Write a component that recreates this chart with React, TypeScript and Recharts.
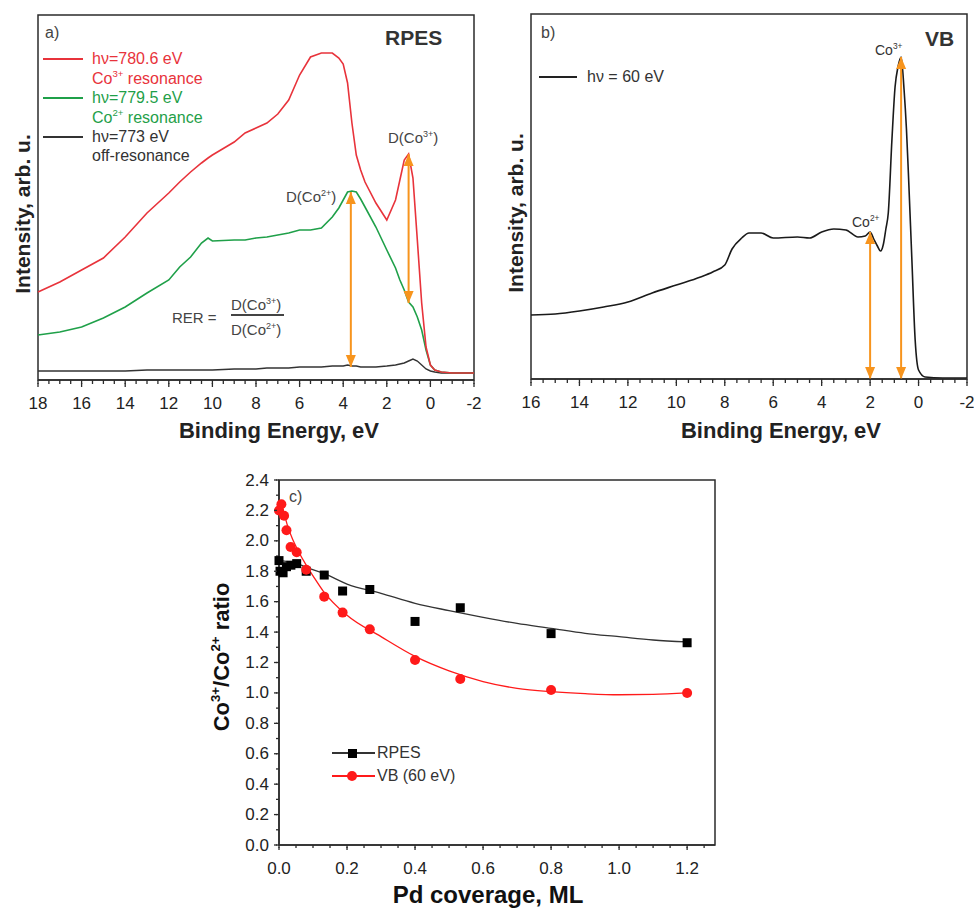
import React from 'react'
import {
  ComposedChart,
  Line,
  XAxis,
  YAxis,
  ReferenceArea,
  ReferenceLine,
  ReferenceDot,
} from 'recharts'

const FONT = '"Liberation Sans", Arial, sans-serif'
const AXIS = '#2b2b2b'
const ORANGE = '#f7941d'
const RED_A = '#e8333b'
const GREEN_A = '#1fa049'
const RED_C = '#ff1a1a'

// a) RPES spectra, binding energy (eV) and intensity (arb. u.)
const rpesEnergy = [18, 17, 16, 15, 14, 13, 12, 11.5, 11, 10.5, 10.2, 10, 9, 8.5, 8, 7.5, 7, 6.5, 6, 5.5, 5, 4.5, 4.2, 4, 3.8, 3.6, 3.4, 3.2, 3, 2.5, 2, 1.6, 1.4, 1.2, 1, 0.8, 0.6, 0.4, 0.2, 0, -0.2, -0.5, -1, -2]
const red780 = [88, 98, 110, 122, 143, 167, 187, 198, 208, 217, 222, 225, 238, 247, 252, 257, 266, 280, 305, 323, 327, 327, 322, 316, 297, 257, 225, 210, 198, 177, 160, 180, 200, 220, 226, 202, 140, 77, 33, 15, 10, 8, 7, 7]
const green779 = [45, 48, 53, 62, 73, 87, 100, 113, 123, 137, 142, 139, 140, 140, 142, 143, 145, 147, 150, 150, 152, 163, 172, 180, 188, 189, 188, 181, 173, 153, 130, 112, 100, 90, 78, 73, 63, 50, 30, 15, 10, 8, 7, 7]
const off773 = [9, 9, 9, 9, 9, 10, 10, 10, 10, 10, 10, 10, 11, 11, 11, 12, 12, 12, 13, 13, 13, 14, 14, 14, 15, 14, 14, 13, 13, 13, 14, 15, 16, 17, 19, 21, 19, 15, 11, 9, 8, 7, 7, 7]
const rpesMajor = [18, 16, 14, 12, 10, 8, 6, 4, 2, 0, -2]

// b) valence band at 60 eV
const vbEnergy = [16, 15, 14, 13, 12, 11, 10, 9, 8.5, 8, 7.7, 7.3, 7, 6.5, 6, 5, 4.5, 4, 3.5, 3, 2.5, 2.2, 2, 1.85, 1.7, 1.57, 1.45, 1.35, 1.25, 1.1, 0.97, 0.85, 0.72, 0.6, 0.5, 0.42, 0.28, 0.14, 0, -0.27, -1, -2]
const vb60 = [64, 65, 68, 72, 77, 86, 94, 102, 107, 114, 130, 141, 146, 146, 141, 142, 141, 147, 150, 149, 142, 143, 147, 140, 133, 128, 135, 150, 166, 239, 292, 312, 322, 290, 250, 206, 122, 39, 9, 2, 1, 1]
const vbMajor = [16, 14, 12, 10, 8, 6, 4, 2, 0, -2]

// c) Co3+/Co2+ ratio vs Pd coverage
const rpesCoverage = [0, 0.003, 0.012, 0.022, 0.035, 0.052, 0.08, 0.133, 0.187, 0.267, 0.4, 0.533, 0.8, 1.2]
const rpesRatio = [1.87, 1.8, 1.79, 1.83, 1.84, 1.85, 1.8, 1.775, 1.67, 1.68, 1.47, 1.56, 1.39, 1.33]
const vbCoverage = [0, 0.007, 0.015, 0.022, 0.034, 0.052, 0.08, 0.133, 0.187, 0.267, 0.4, 0.533, 0.8, 1.2]
const vbRatio = [2.2, 2.24, 2.165, 2.07, 1.96, 1.925, 1.81, 1.633, 1.528, 1.418, 1.216, 1.092, 1.019, 1.0]
const rpesFitX = [0, 0.052, 0.08, 0.132, 0.2, 0.3, 0.4, 0.5, 0.6, 0.7, 0.8, 0.9, 1.0, 1.1, 1.2]
const rpesFitY = [1.87, 1.852, 1.826, 1.786, 1.716, 1.655, 1.589, 1.541, 1.497, 1.457, 1.425, 1.392, 1.37, 1.348, 1.335]
const vbFitX = [0.004, 0.015, 0.025, 0.04, 0.055, 0.08, 0.1, 0.13, 0.2, 0.3, 0.4, 0.5, 0.6, 0.7, 0.8, 0.9, 1.0, 1.1, 1.2]
const vbFitY = [2.26, 2.18, 2.1, 2.01, 1.94, 1.84, 1.77, 1.67, 1.51, 1.37, 1.24, 1.145, 1.075, 1.03, 1.008, 0.995, 0.988, 0.99, 1.0]
const coverageMajor = [0, 0.2, 0.4, 0.6, 0.8, 1.0, 1.2]
const ratioMajor = [0, 0.2, 0.4, 0.6, 0.8, 1.0, 1.2, 1.4, 1.6, 1.8, 2.0, 2.2, 2.4]

const rpesRows = rpesEnergy.map((e, i) => ({ e, red: red780[i], green: green779[i], black: off773[i] }))
const vbRows = vbEnergy.map((e, i) => ({ e, v: vb60[i] }))
const rpesPts = rpesCoverage.map((x, i) => ({ x, y: rpesRatio[i] }))
const vbPts = vbCoverage.map((x, i) => ({ x, y: vbRatio[i] }))
const rpesFit = rpesFitX.map((x, i) => ({ x, y: rpesFitY[i] }))
const vbFit = vbFitX.map((x, i) => ({ x, y: vbFitY[i] }))

// minor ticks between the labelled ones
const steps = (lo: number, hi: number, step: number) =>
  Array.from({ length: Math.round((hi - lo) / step) + 1 }, (_, i) => +(lo + i * step).toFixed(3))

const isMajor = (majors: number[], v: number) => majors.some((m) => Math.abs(m - v) < 1e-6)

// recharts draws the short tick line; majors get a longer mark and a label
const bottomTick = (majors: number[], fmt: (v: number) => string, dy: number, extra: number) => (p: any) => {
  const v = p.payload.value
  if (!isMajor(majors, v)) return <g />
  return (
    <g>
      <rect x={p.x - 0.65} y={p.y - 1} width={1.3} height={extra + 1} fill={AXIS} />
      <text x={p.x} y={p.y + dy} textAnchor="middle" dominantBaseline="central" fontSize={17} fontFamily={FONT} fill="#222">
        {fmt(v)}
      </text>
    </g>
  )
}

const leftTick = (majors: number[]) => (p: any) => {
  const v = p.payload.value
  if (!isMajor(majors, v)) return <g />
  return (
    <g>
      <rect x={p.x - 2} y={p.y - 0.65} width={3} height={1.3} fill={AXIS} />
      <text x={p.x - 7} y={p.y} textAnchor="end" dominantBaseline="central" fontSize={17} fontFamily={FONT} fill="#222">
        {v.toFixed(1)}
      </text>
    </g>
  )
}

const head = (up: boolean) => (p: any) => {
  const d = up ? 12 : -12
  return <polygon points={`${p.cx},${p.cy} ${p.cx - 5},${p.cy + d} ${p.cx + 5},${p.cy + d}`} fill={ORANGE} />
}

const arrow = (key: string, x: number, yTop: number, yBot: number) => [
  <ReferenceLine key={key + 'l'} segment={[{ x, y: yTop }, { x, y: yBot }]} stroke={ORANGE} strokeWidth={2} ifOverflow="visible" />,
  <ReferenceDot key={key + 't'} x={x} y={yTop} ifOverflow="visible" shape={head(true)} />,
  <ReferenceDot key={key + 'b'} x={x} y={yBot} ifOverflow="visible" shape={head(false)} />,
]

const Sup = ({ children }: { children: React.ReactNode }) => (
  <span style={{ fontSize: '0.6em', position: 'relative', top: '-0.7em' }}>{children}</span>
)

const T = ({ x, y, size = 16, color = '#333', bold = false, center = false, rotate = false, children }: any) => (
  <div
    style={{
      position: 'absolute',
      left: x,
      top: y,
      transform: rotate ? 'translate(-50%,-50%) rotate(-90deg)' : center ? 'translate(-50%,-50%)' : 'translateY(-50%)',
      fontSize: size,
      color,
      fontWeight: bold ? 700 : 400,
      lineHeight: 1,
      whiteSpace: 'nowrap',
      fontFamily: FONT,
    }}
  >
    {children}
  </div>
)

const Seg = ({ x1, x2, y, color, w = 2 }: any) => (
  <div style={{ position: 'absolute', left: x1, top: y - w / 2, width: x2 - x1, height: w, background: color }} />
)

const tickLineStyle = { stroke: AXIS, strokeWidth: 1.3 }

function PanelA() {
  return (
    <div style={{ position: 'absolute', left: 0, top: 0, width: 490, height: 452 }}>
      <ComposedChart width={490} height={450} data={rpesRows} margin={{ top: 15, right: 16, left: 38, bottom: 10 }}>
        <XAxis
          dataKey="e"
          type="number"
          domain={[-2, 18]}
          reversed
          ticks={steps(-2, 18, 0.5)}
          interval={0}
          tickLine={tickLineStyle}
          tickSize={4}
          tickMargin={0}
          axisLine={{ stroke: AXIS, strokeWidth: 1.5 }}
          tick={bottomTick(rpesMajor, (v) => String(v), 19, 3)}
          height={60}
        />
        <YAxis type="number" domain={[0, 365]} hide />
        <ReferenceArea x1={18} x2={-2} y1={0} y2={365} fill="none" stroke={AXIS} strokeWidth={1.5} ifOverflow="visible" />
        <Line dataKey="black" type="linear" stroke="#333" strokeWidth={1.4} dot={false} isAnimationActive={false} />
        <Line dataKey="green" type="linear" stroke={GREEN_A} strokeWidth={1.6} dot={false} isAnimationActive={false} />
        <Line dataKey="red" type="linear" stroke={RED_A} strokeWidth={1.6} dot={false} isAnimationActive={false} />
        {arrow('a1', 3.65, 188, 13)}
        {arrow('a2', 1.0, 226, 77)}
      </ComposedChart>
      <T x={45} y={33} color="#444">a)</T>
      <T x={385} y={37} size={21} bold color="#333">RPES</T>
      <Seg x1={43} x2={83} y={59} color={RED_A} />
      <T x={92} y={59} color={RED_A}>hν=780.6 eV</T>
      <T x={92} y={79} color={RED_A}>Co<Sup>3+</Sup> resonance</T>
      <Seg x1={43} x2={83} y={98} color={GREEN_A} />
      <T x={92} y={98} color={GREEN_A}>hν=779.5 eV</T>
      <T x={92} y={118} color={GREEN_A}>Co<Sup>2+</Sup> resonance</T>
      <Seg x1={43} x2={83} y={137} color="#333" w={1.5} />
      <T x={92} y={137} color="#333">hν=773 eV</T>
      <T x={92} y={156} color="#333">off-resonance</T>
      <T x={388} y={137} size={15} color="#444">D(Co<Sup>3+</Sup>)</T>
      <T x={286} y={196} size={15} color="#444">D(Co<Sup>2+</Sup>)</T>
      <T x={172} y={317} size={15} color="#444">RER =</T>
      <T x={231} y={304} size={15} color="#444">D(Co<Sup>3+</Sup>)</T>
      <Seg x1={231} x2={284} y={315} color="#444" w={1.2} />
      <T x={231} y={329} size={15} color="#444">D(Co<Sup>2+</Sup>)</T>
      <T x={22} y={214} size={21} bold rotate color="#222">Intensity, arb. u.</T>
      <T x={279} y={431} size={22} bold center color="#222">Binding Energy, eV</T>
    </div>
  )
}

function PanelB() {
  return (
    <div style={{ position: 'absolute', left: 490, top: 0, width: 484, height: 452, overflow: 'hidden' }}>
      <ComposedChart width={484} height={450} data={vbRows} margin={{ top: 14, right: 7, left: 41, bottom: 11 }}>
        <XAxis
          dataKey="e"
          type="number"
          domain={[-2, 16]}
          reversed
          ticks={steps(-2, 16, 0.5)}
          interval={0}
          tickLine={tickLineStyle}
          tickSize={4}
          tickMargin={0}
          axisLine={{ stroke: AXIS, strokeWidth: 1.5 }}
          tick={bottomTick(vbMajor, (v) => String(v), 19, 3)}
          height={60}
        />
        <YAxis type="number" domain={[0, 365]} hide />
        <ReferenceArea x1={16} x2={-2} y1={0} y2={365} fill="none" stroke={AXIS} strokeWidth={1.5} ifOverflow="visible" />
        <Line dataKey="v" type="monotone" stroke="#1a1a1a" strokeWidth={1.6} dot={false} isAnimationActive={false} />
        {arrow('b1', 2.0, 147, 0)}
        {arrow('b2', 0.72, 322, 0)}
      </ComposedChart>
      <T x={51} y={33} color="#444">b)</T>
      <T x={435} y={38} size={21} bold color="#333">VB</T>
      <Seg x1={49} x2={87} y={77} color="#222" w={1.5} />
      <T x={97} y={77} color="#333">hν = 60 eV</T>
      <T x={385} y={50} size={14} color="#333">Co<Sup>3+</Sup></T>
      <T x={362} y={222} size={14} color="#333">Co<Sup>2+</Sup></T>
      <T x={25} y={213} size={21} bold rotate color="#222">Intensity, arb. u.</T>
      <T x={291} y={431} size={22} bold center color="#222">Binding Energy, eV</T>
    </div>
  )
}

const squareDot = (p: any) => (
  <rect key={`sq${p.index}`} x={p.cx - 4.5} y={p.cy - 4.5} width={9} height={9} fill="#000" />
)

function PanelC() {
  return (
    <div style={{ position: 'absolute', left: 200, top: 460, width: 540, height: 449 }}>
      <ComposedChart width={540} height={449} margin={{ top: 20, right: 25, left: 19, bottom: 24 }}>
        <XAxis
          dataKey="x"
          type="number"
          domain={[0, 1.282]}
          ticks={steps(0, 1.25, 0.05)}
          interval={0}
          tickLine={tickLineStyle}
          tickSize={3}
          tickMargin={0}
          axisLine={{ stroke: AXIS, strokeWidth: 1.5 }}
          tick={bottomTick(coverageMajor, (v) => v.toFixed(1), 20, 2)}
          height={40}
        />
        <YAxis
          type="number"
          domain={[0, 2.4]}
          ticks={steps(0, 2.4, 0.1)}
          interval={0}
          tickLine={tickLineStyle}
          tickSize={3}
          tickMargin={0}
          axisLine={{ stroke: AXIS, strokeWidth: 1.5 }}
          tick={leftTick(ratioMajor)}
          width={60}
        />
        <ReferenceArea x1={0} x2={1.282} y1={0} y2={2.4} fill="none" stroke={AXIS} strokeWidth={1.5} ifOverflow="visible" />
        <Line data={rpesFit} dataKey="y" type="monotone" stroke="#333" strokeWidth={1.3} dot={false} isAnimationActive={false} />
        <Line data={vbFit} dataKey="y" type="monotone" stroke={RED_C} strokeWidth={1.3} dot={false} isAnimationActive={false} />
        <Line data={rpesPts} dataKey="y" stroke="none" dot={squareDot} isAnimationActive={false} />
        <Line data={vbPts} dataKey="y" stroke="none" dot={{ r: 5, fill: RED_C, stroke: 'none' }} isAnimationActive={false} />
      </ComposedChart>
      <T x={89} y={37} color="#444">c)</T>
      <Seg x1={132} x2={175} y={293} color="#333" w={1.5} />
      <div style={{ position: 'absolute', left: 148, top: 289, width: 9, height: 9, background: '#000' }} />
      <T x={177} y={293} color="#333">RPES</T>
      <Seg x1={132} x2={175} y={316} color={RED_C} w={1.5} />
      <div style={{ position: 'absolute', left: 147, top: 311, width: 10, height: 10, borderRadius: 5, background: RED_C }} />
      <T x={177} y={316} color="#333">VB (60 eV)</T>
      <T x={22} y={197} size={22} bold rotate color="#111">
        Co<Sup>3+</Sup>/Co<Sup>2+</Sup> ratio
      </T>
      <T x={288} y={435} size={24} bold center color="#111">Pd coverage, ML</T>
    </div>
  )
}

export default function App() {
  return (
    <div style={{ position: 'absolute', left: 0, top: 0, width: 974, height: 909, overflow: 'hidden', background: '#fff', fontFamily: FONT }}>
      <PanelA />
      <PanelB />
      <PanelC />
    </div>
  )
}
